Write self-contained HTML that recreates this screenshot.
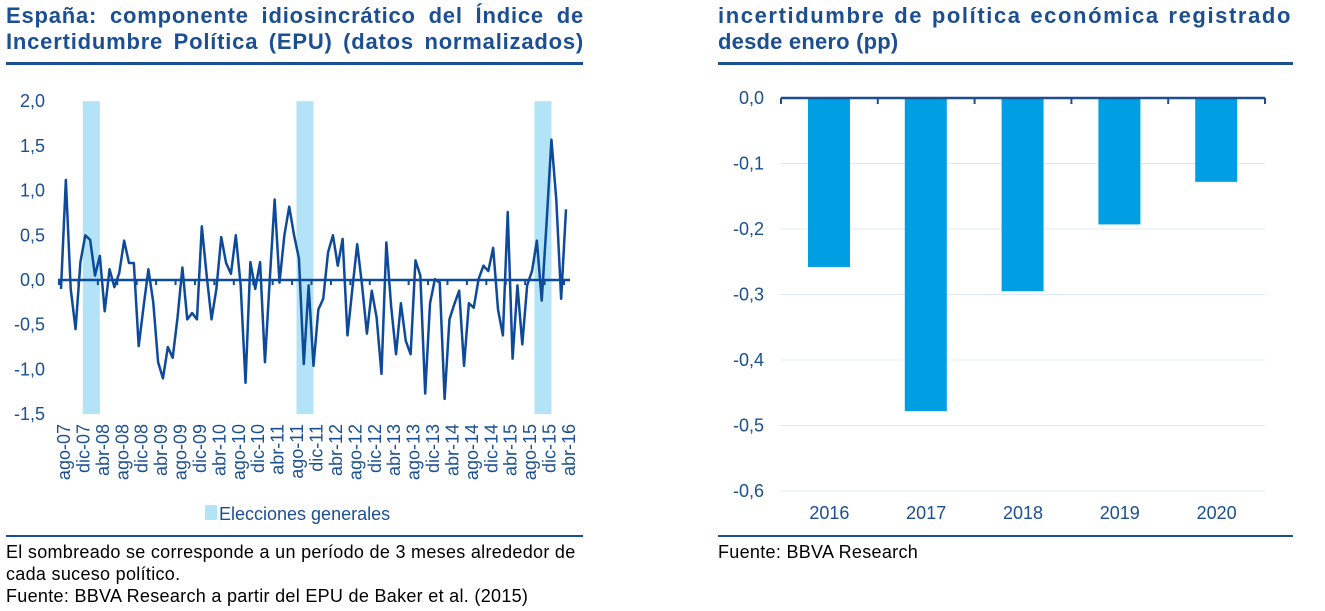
<!DOCTYPE html>
<html><head><meta charset="utf-8">
<style>
body{margin:0;width:1325px;height:611px;background:#fff;font-family:"Liberation Sans",sans-serif;overflow:hidden;position:relative}
.t{position:absolute;color:#1b4f91;font-weight:bold;font-size:22px;line-height:26px;letter-spacing:1.5px;text-align:justify;text-align-last:justify}
.n{position:absolute;color:#000;font-size:18px;line-height:22px;letter-spacing:0.3px;white-space:nowrap}
.rule{position:absolute;height:3px;background:#1b4f91}
svg{position:absolute;left:0;top:0}
</style></head><body>
<div class="t" style="left:6px;top:3px;width:578px;letter-spacing:0.8px">España: componente idiosincrático del Índice de</div>
<div class="t" style="left:6px;top:29px;width:578px;letter-spacing:0.8px">Incertidumbre Política (EPU) (datos normalizados)</div>
<div class="t" style="left:718px;top:3px;width:574px;letter-spacing:1.6px;white-space:nowrap">incertidumbre de política económica registrado</div>
<div class="t" style="left:718px;top:29px;text-align-last:auto;white-space:nowrap;letter-spacing:0.2px">desde enero (pp)</div>
<div class="rule" style="left:6px;top:62px;width:577px"></div>
<div class="rule" style="left:718px;top:62px;width:575px"></div>
<div class="rule" style="left:6px;top:535px;width:577px;height:2px"></div>
<div class="rule" style="left:718px;top:535px;width:575px;height:2px"></div>
<div class="n" style="left:6px;top:541px">El sombreado se corresponde a un período de 3 meses alrededor de<br>cada suceso político.<br>Fuente: BBVA Research a partir del EPU de Baker et al. (2015)</div>
<div class="n" style="left:718px;top:541px">Fuente: BBVA Research</div>
<svg id="c" width="1325" height="611"></svg>
<script>
const lineValues=[-0.1,1.12,-0.1,-0.55,0.2,0.5,0.45,0.05,0.27,-0.35,0.12,-0.08,0.08,0.44,0.19,0.19,-0.74,-0.3,0.12,-0.25,-0.92,-1.1,-0.75,-0.87,-0.42,0.14,-0.44,-0.37,-0.44,0.6,0.05,-0.44,-0.1,0.48,0.19,0.07,0.5,-0.06,-1.15,0.2,-0.1,0.2,-0.92,0.01,0.9,-0.03,0.5,0.82,0.5,0.24,-0.94,-0.06,-0.96,-0.33,-0.21,0.31,0.5,0.16,0.46,-0.62,-0.1,0.4,-0.06,-0.6,-0.12,-0.42,-1.05,0.42,-0.3,-0.83,-0.26,-0.68,-0.83,0.22,0.05,-1.27,-0.26,0.01,-0.03,-1.33,-0.44,-0.27,-0.12,-0.96,-0.26,-0.31,0.01,0.16,0.1,0.36,-0.33,-0.62,0.76,-0.88,-0.06,-0.72,-0.06,0.1,0.44,-0.23,0.64,1.57,0.9,-0.21,0.79];
const monthNames=['ene','feb','mar','abr','may','jun','jul','ago','sep','oct','nov','dic'];
const elections=[[4.5,8],[48.5,52],[97.5,101]];
const leftTicks=[2.0,1.5,1.0,0.5,0.0,-0.5,-1.0,-1.5];
const barYears=['2016','2017','2018','2019','2020'];
const barValues=[-0.258,-0.478,-0.295,-0.193,-0.128];
const rightTicks=[0.0,-0.1,-0.2,-0.3,-0.4,-0.5,-0.6];
const NS='http://www.w3.org/2000/svg',svg=document.getElementById('c');
function mk(t,a,txt){const e=document.createElementNS(NS,t);for(const k in a)e.setAttribute(k,a[k]);if(txt!=null)e.textContent=txt;svg.appendChild(e);return e;}
const fmt=v=>v.toFixed(1).replace('.',',');
const lx=i=>61+i*(505/(lineValues.length-1));
const ly=v=>280-v*89.4;
elections.forEach(b=>{const e=mk('rect',{x:lx(b[0]),y:ly(2),width:lx(b[1])-lx(b[0]),height:ly(-1.5)-ly(2),fill:'#b3e3f6'});

});
leftTicks.forEach(v=>{const e=mk('text',{x:45,y:ly(v)+6,'text-anchor':'end','font-size':18,fill:'#1b4f91'},fmt(v));

});
const za=mk('line',{x1:58,x2:570,y1:ly(0),y2:ly(0),stroke:'#0d4a9a','stroke-width':2.5});


for(let i=0;i<lineValues.length;i+=4){
 const t=mk('line',{x1:lx(i)-2,x2:lx(i)-2,y1:ly(0),y2:ly(0)+5,stroke:'#0d4a9a','stroke-width':2});
 
 
 const m=(7+i)%12,y=7+Math.floor((7+i)/12);
 const x=lx(i)+9;
 const e=mk('text',{x:x,y:424,transform:`rotate(-90 ${x} 424)`,'text-anchor':'end','font-size':18,fill:'#1b4f91'},monthNames[m]+'-'+String(y).padStart(2,'0'));
 
 
}
const p=mk('polyline',{points:lineValues.map((v,i)=>lx(i)+','+ly(v)).join(' '),fill:'none',stroke:'#0d4a9a','stroke-width':2.5,'stroke-linejoin':'round'});


const lg=mk('rect',{x:205,y:505,width:12,height:15,fill:'#b3e3f6'});


const lt=mk('text',{x:219,y:520,'font-size':18,fill:'#1b4f91'},'Elecciones generales');


const rx0=781,cw=96.8;
const ry=v=>98-v*655;
rightTicks.forEach(v=>{
 if(v!==0){const g=mk('line',{x1:rx0,x2:rx0+cw*5,y1:ry(v),y2:ry(v),stroke:'#dcecf6','stroke-width':1});
 
 }
 const e=mk('text',{x:764,y:ry(v)+6,'text-anchor':'end','font-size':18,fill:'#1b4f91'},fmt(v));
 
 
});
barValues.forEach((v,i)=>{
 const b=mk('rect',{x:rx0+i*cw+27,y:ry(0),width:42,height:ry(v)-ry(0),fill:'#009fe3'});
 
 
 const t=mk('text',{x:rx0+i*cw+cw/2,y:519,'text-anchor':'middle','font-size':18,fill:'#1b4f91'},barYears[i]);
 
 
});
const ra=mk('line',{x1:rx0,x2:rx0+cw*5,y1:ry(0),y2:ry(0),stroke:'#1b4f91','stroke-width':2.5});


for(let i=0;i<=5;i++){const t=mk('line',{x1:rx0+i*cw,x2:rx0+i*cw,y1:ry(0),y2:ry(0)+6,stroke:'#1b4f91','stroke-width':2});

}
</script>
</body></html>
